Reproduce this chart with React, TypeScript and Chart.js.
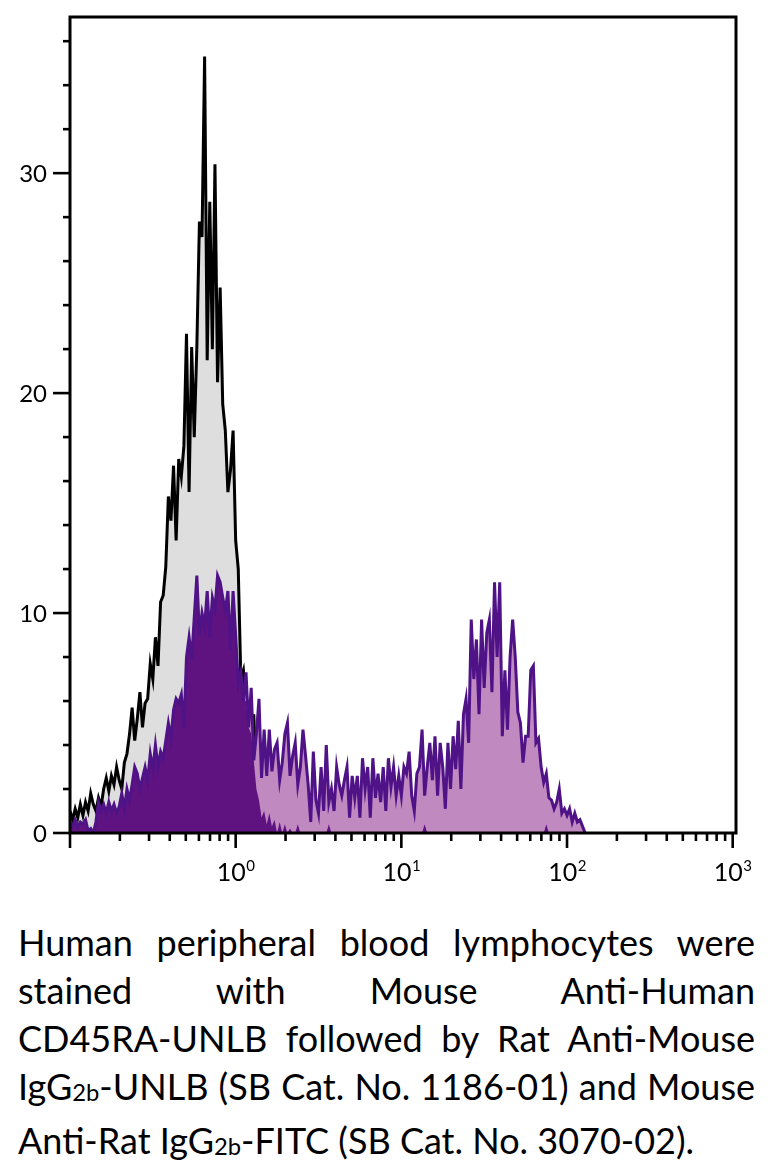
import React, { useEffect, useRef } from 'react';
import { Chart, registerables } from 'chart.js';

Chart.register(...registerables);

// Histogram channels: 64 channels per decade, channel 0 sits at 10^-1
const CHANNELS_PER_DECADE = 64;
const FIRST_DECADE = -1;

// Unstained / control (grey with black outline), counts per channel
const CONTROL_COUNTS = [
  1.0, 0.6, 1.1, 0.7, 1.3, 0.8, 1.4, 1.0, 1.8, 1.3,
  1.0, 1.6, 1.2, 2.0, 2.5, 1.9, 2.6, 2.2, 3.0, 2.4,
  2.0, 3.2, 3.6, 4.5, 5.7, 4.2, 5.2, 6.4, 4.8, 5.9,
  6.1, 7.7, 7.0, 8.9, 7.6, 10.5, 10.8, 12.1, 15.3, 14.2,
  16.7, 13.3, 17.0, 16.2, 17.6, 22.7, 15.5, 22.1, 18.0, 22.1,
  27.8, 27.1, 35.3, 21.5, 28.7, 22.0, 30.4, 20.5, 24.8, 19.5,
  18.3, 15.5, 16.5, 18.3, 13.3, 12.0, 7.0, 7.4, 6.0, 5.0,
  4.5, 5.4, 2.0, 1.5, 0.7, 1.0, 0.4, 0.9, 0.3, 0.6,
  0, 0.5, 0, 0.4, 0, 0.2, 0, 0, 0.4, 0,
  0, 0, 0, 0, 0, 0, 0, 0, 0, 0,
  0.4, 0, 0, 0, 0, 0, 0, 0, 0, 0,
  0, 0, 0, 0, 0, 0, 0, 0, 0, 0,
  0, 0, 0, 0, 0, 0, 0, 0, 0, 0,
  0, 0, 0, 0, 0, 0, 0, 0.4, 0, 0,
  0, 0, 0, 0, 0, 0, 0, 0, 0, 0,
  0, 0, 0, 0, 0, 0, 0, 0, 0, 0,
  0, 0, 0, 0, 0, 0, 0, 0, 0, 0,
  0, 0, 0, 0, 0, 0, 0, 0, 0, 0,
  0, 0, 0, 0, 0.4, 0, 0, 0, 0, 0,
  0, 0, 0, 0, 0, 0, 0, 0, 0, 0,
];

// Stained sample (purple), counts per channel
const STAINED_COUNTS = [
  0.5, 0.3, 0.6, 0.3, 0.5, 0.4, 0.6, 0.1, 0.2, 0.0,
  0.5, 1.4, 1.0, 1.3, 0.9, 1.4, 1.0, 1.3, 0.9, 1.2,
  1.8, 1.1, 2.0, 1.5, 2.2, 3.0, 2.7, 2.0, 2.5, 3.0,
  2.4, 3.6, 2.9, 4.0, 3.0, 3.7, 3.4, 4.2, 5.0, 4.3,
  5.6, 6.1, 5.9, 6.3, 4.8, 8.0, 8.9, 7.9, 9.8, 11.7,
  9.0, 10.0, 9.4, 11.0, 8.9, 10.7, 10.2, 11.7, 11.4, 10.7,
  10.1, 11.0, 8.3, 11.0, 9.0, 6.8, 7.3, 6.0, 7.3, 4.8,
  6.6, 3.3, 4.5, 6.1, 2.5, 4.7, 2.6, 4.7, 2.8, 3.8,
  4.1, 2.4, 3.2, 4.5, 5.0, 2.6, 3.5, 4.1, 2.2, 3.0,
  4.7, 3.5, 2.2, 0.5, 3.7, 1.5, 0.9, 3.0, 1.0, 4.0,
  1.4, 2.0, 1.0, 3.0, 2.2, 1.7, 2.4, 3.0, 0.7, 2.6,
  1.6, 2.6, 0.7, 3.4, 2.0, 3.0, 0.7, 3.4, 1.6, 2.7,
  1.4, 3.0, 1.0, 3.4, 2.1, 3.0, 1.7, 2.6, 1.7, 3.0,
  2.7, 3.7, 1.7, 1.0, 2.7, 3.0, 4.7, 1.7, 3.0, 4.1,
  2.4, 4.4, 1.7, 4.1, 3.0, 1.1, 4.1, 2.0, 4.4, 2.9,
  5.1, 2.0, 5.4, 6.1, 4.1, 9.7, 7.0, 8.8, 5.4, 9.7,
  6.6, 9.1, 9.7, 6.4, 11.4, 8.0, 11.4, 4.4, 7.4, 4.7,
  8.0, 9.7, 8.0, 5.5, 5.0, 3.2, 4.4, 4.4, 7.4, 7.6,
  4.1, 4.3, 3.0, 2.3, 2.7, 1.6, 1.5, 1.1, 1.4, 2.0,
  0.9, 1.1, 0.8, 1.1, 0.5, 0.9, 0.5, 0.6, 0.3, 0,
];

const X_DECADES = [-1, 0, 1, 2, 3];
const X_LABEL_DECADES = [0, 1, 2, 3];
const X_MINOR_MULTIPLIERS = [2, 3, 4, 5, 6, 7, 8, 9];
const Y_TICKS = [0, 2, 4, 6, 8, 10, 12, 14, 16, 18, 20, 22, 24, 26, 28, 30, 32, 34, 36];
const Y_LABELS = [0, 10, 20, 30];

const CAPTION_LINES = [
  'Human peripheral blood lymphocytes were',
  'stained with Mouse Anti-Human',
  'CD45RA-UNLB followed by Rat Anti-Mouse',
];

const FONT = 'Lato, "Open Sans", sans-serif';

const channelValue = (c: number) => Math.pow(10, FIRST_DECADE + c / CHANNELS_PER_DECADE);

const axisDecor = {
  id: 'axisDecor',
  afterDatasetsDraw(chart: any) {
    const { ctx, chartArea: a, scales } = chart;
    const x = scales.x;
    const y = scales.y;
    ctx.save();
    ctx.strokeStyle = '#000';
    ctx.fillStyle = '#000';
    ctx.lineWidth = 3;
    ctx.strokeRect(a.left, a.top, a.right - a.left, a.bottom - a.top);

    ctx.lineWidth = 2.6;
    for (const v of Y_TICKS) {
      const py = y.getPixelForValue(v);
      const major = Y_LABELS.includes(v);
      ctx.beginPath();
      ctx.moveTo(a.left - (major ? 17 : 7), py);
      ctx.lineTo(a.left, py);
      ctx.stroke();
    }
    ctx.font = '24px ' + FONT;
    ctx.textAlign = 'right';
    ctx.textBaseline = 'middle';
    for (const v of Y_LABELS) {
      ctx.fillText(String(v), a.left - 23, y.getPixelForValue(v) + 1);
    }

    for (const d of X_DECADES) {
      const base = Math.pow(10, d);
      if (base <= x.max && base >= x.min) {
        const px = x.getPixelForValue(base);
        ctx.beginPath();
        ctx.moveTo(px, a.bottom);
        ctx.lineTo(px, a.bottom + 15);
        ctx.stroke();
      }
      for (const m of X_MINOR_MULTIPLIERS) {
        const v = m * base;
        if (v > x.max) continue;
        const px = x.getPixelForValue(v);
        ctx.beginPath();
        ctx.moveTo(px, a.bottom);
        ctx.lineTo(px, a.bottom + 8);
        ctx.stroke();
      }
    }
    ctx.textBaseline = 'alphabetic';
    ctx.textAlign = 'left';
    for (const d of X_LABEL_DECADES) {
      const px = x.getPixelForValue(Math.pow(10, d));
      ctx.font = '25px ' + FONT;
      const w1 = ctx.measureText('10').width;
      ctx.font = '15px ' + FONT;
      const w2 = ctx.measureText(String(d)).width;
      const start = px - (w1 + w2) / 2;
      ctx.font = '25px ' + FONT;
      ctx.fillText('10', start, a.bottom + 48);
      ctx.font = '15px ' + FONT;
      ctx.fillText(String(d), start + w1 + 0.5, a.bottom + 38);
    }
    ctx.restore();
  },
};

function HistogramChart() {
  const ref = useRef<HTMLCanvasElement | null>(null);
  useEffect(() => {
    if (!ref.current) return;
    const control = CONTROL_COUNTS.map((v, i) => ({ x: channelValue(i), y: v }));
    const stained = STAINED_COUNTS.map((v, i) => ({ x: channelValue(i), y: v }));
    const overlap = STAINED_COUNTS.map((v, i) => ({ x: channelValue(i), y: Math.min(v, CONTROL_COUNTS[i] ?? 0) }));
    const common = { pointRadius: 0, tension: 0, fill: 'origin' as const };
    const chart = new Chart(ref.current, {
      type: 'line',
      data: {
        datasets: [
          { ...common, data: control, borderColor: '#000000', borderWidth: 3, backgroundColor: '#dedede', order: 4 },
          { ...common, data: stained, borderColor: 'rgba(0,0,0,0)', borderWidth: 0, backgroundColor: '#c08ac1', order: 3 },
          { ...common, data: overlap, borderColor: 'rgba(0,0,0,0)', borderWidth: 0, backgroundColor: '#5f1381', order: 2 },
          { ...common, data: stained, fill: false, borderColor: '#4f1287', borderWidth: 3, order: 1 },
        ],
      },
      options: {
        animation: false,
        responsive: false,
        devicePixelRatio: 1,
        events: [],
        layout: { padding: { top: 9, right: 26, left: 0, bottom: 0 } },
        plugins: { legend: { display: false }, tooltip: { enabled: false } },
        scales: {
          x: {
            type: 'logarithmic',
            min: 0.1,
            max: Math.pow(10, 3.02),
            grid: { display: false },
            border: { display: false },
            ticks: { display: false },
            afterFit: (s: any) => { s.height = 55; },
          },
          y: {
            type: 'linear',
            min: 0,
            max: 37.1,
            grid: { display: false },
            border: { display: false },
            ticks: { display: false },
            afterFit: (s: any) => { s.width = 62; },
          },
        },
      },
      plugins: [axisDecor],
    });
    return () => chart.destroy();
  }, []);
  return <canvas ref={ref} width={754} height={880} style={{ display: 'block', width: 754, height: 880 }} />;
}

const sub = (t: string) => (
  <span style={{ fontSize: '0.66em', verticalAlign: '-0.04em' }}>{t}</span>
);

export default function App() {
  const justified: React.CSSProperties = { textAlign: 'justify', textAlignLast: 'justify' };
  return (
    <div style={{ width: 754 }}>
      <HistogramChart />
      <div
        style={{
          marginTop: 30,
          padding: '0 7px 0 10px',
          fontFamily: FONT,
          fontSize: 36,
          lineHeight: '48px',
          color: '#000',
        }}
      >
        {CAPTION_LINES.map((l) => (
          <div key={l} style={justified}>{l}</div>
        ))}
        <div style={justified}>IgG{sub('2b')}-UNLB (SB Cat. No. 1186-01) and Mouse</div>
        <div style={{ textAlign: 'left' }}>Anti-Rat IgG{sub('2b')}-FITC (SB Cat. No. 3070-02).</div>
      </div>
    </div>
  );
}
